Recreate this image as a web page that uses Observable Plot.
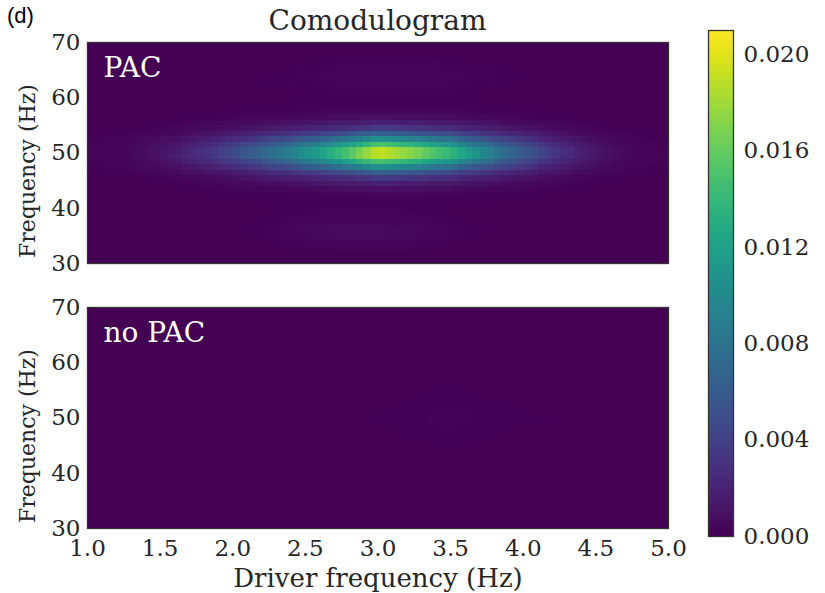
<!DOCTYPE html>
<html>
<head>
<meta charset="utf-8">
<script src="https://cdn.jsdelivr.net/npm/d3@7"></script>
<script src="https://cdn.jsdelivr.net/npm/@observablehq/plot@0.6"></script>
<style>
  html, body { margin: 0; padding: 0; background: #fff; }
  #root { position: relative; width: 825px; height: 593px; overflow: hidden; font-family: "DejaVu Serif", serif; color: #262626; }
  .abs { position: absolute; }
  #title { left: 0; width: 755px; top: 4px; text-align: center; font-size: 28px; white-space: nowrap; }
  #tag { left: 7px; top: 3px; font-family: "Liberation Sans", Arial, sans-serif; font-size: 22px; color: #000; }
</style>
</head>
<body>
<div id="root">
  <div id="p1" class="abs" style="left:0;top:0"></div>
  <div id="p2" class="abs" style="left:0;top:270px"></div>
  <div id="cb" class="abs" style="left:700px;top:0"></div>
  <div id="title" class="abs">Comodulogram</div>
  <div id="tag" class="abs">(d)</div>
</div>
<script>
// ---- data (values in units of 0.001) ----
const driverFreqs = [1.0, 1.25, 1.5, 1.75, 2.0, 2.25, 2.5, 2.75, 3.0, 3.25, 3.5, 3.75, 4.0, 4.25, 4.5, 4.75, 5.0];
const pacFreqRows = [30, 32, 34, 36, 38, 40, 41, 42, 43, 44, 45, 46, 47, 48, 49, 50, 51, 52, 53, 54, 55, 56, 57, 58, 59, 60, 62, 64, 66, 68, 70];
const pacMilli = [
  [0,0,0,0,0,0,0,0,0,0,0,0,0,0,0,0,0],                              // 30
  [0,0,0,0,0,0,0.1,0.1,0.1,0.1,0,0,0,0,0,0,0],                      // 32
  [0,0,0,0,0,0.1,0.3,0.4,0.4,0.3,0.1,0,0,0,0,0,0],                  // 34
  [0,0,0,0,0.1,0.2,0.5,0.7,0.7,0.5,0.3,0.1,0,0,0,0,0],              // 36
  [0,0,0,0,0,0.1,0.3,0.4,0.4,0.3,0.1,0,0,0,0,0,0],                  // 38
  [0,0,0,0,0,0,0.1,0.1,0.1,0.1,0,0,0,0,0,0,0],                      // 40
  [0,0,0,0,0,0.1,0.1,0.1,0.1,0.1,0.1,0.1,0,0,0,0,0],                // 41
  [0,0,0,0,0.1,0.1,0.1,0.2,0.2,0.2,0.2,0.1,0.1,0,0,0,0],            // 42
  [0,0,0,0.1,0.1,0.2,0.3,0.4,0.5,0.5,0.4,0.2,0.1,0.1,0,0,0],        // 43
  [0,0,0.1,0.2,0.4,0.5,0.7,1.0,1.3,1.1,0.9,0.6,0.4,0.2,0.1,0,0],    // 44
  [0,0,0.1,0.3,0.6,1.0,1.4,1.9,2.5,2.2,1.8,1.2,0.7,0.4,0.1,0,0],    // 45
  [0,0.1,0.3,0.6,1.1,1.8,2.6,3.5,4.8,4.2,3.4,2.3,1.4,0.7,0.3,0.1,0],// 46
  [0.1,0.2,0.5,1.1,2.0,3.2,4.6,6.2,8.4,7.4,6.0,4.0,2.5,1.3,0.5,0.2,0.1], // 47
  [0.1,0.3,0.7,1.7,3.1,4.9,7.1,9.6,13.0,11.4,9.3,6.2,3.9,1.9,0.8,0.3,0.1], // 48
  [0.2,0.3,0.9,2.3,4.1,6.6,9.5,12.8,17.2,15.2,12.4,8.3,5.2,2.6,1.0,0.3,0.2], // 49
  [0.2,0.4,1.1,2.7,5.0,8.0,11.6,15.5,21.0,18.5,15.1,10.1,6.3,3.2,1.3,0.4,0.2], // 50
  [0.2,0.3,0.9,2.3,4.2,6.7,9.7,13.0,17.6,15.5,12.7,8.5,5.3,2.7,1.1,0.3,0.2], // 51
  [0.1,0.3,0.7,1.7,3.1,4.9,7.1,9.6,13.0,11.4,9.3,6.2,3.9,1.9,0.8,0.3,0.1], // 52
  [0.1,0.2,0.5,1.1,2.0,3.2,4.6,6.2,8.4,7.4,6.0,4.0,2.5,1.3,0.5,0.2,0.1], // 53
  [0,0.1,0.3,0.6,1.1,1.8,2.6,3.5,4.8,4.2,3.4,2.3,1.4,0.7,0.3,0.1,0],// 54
  [0,0,0.1,0.3,0.6,1.0,1.4,1.9,2.5,2.2,1.8,1.2,0.7,0.4,0.1,0,0],    // 55
  [0,0,0.1,0.2,0.4,0.5,0.7,1.0,1.3,1.1,0.9,0.6,0.4,0.2,0.1,0,0],    // 56
  [0,0,0,0.1,0.1,0.2,0.3,0.4,0.5,0.5,0.4,0.2,0.1,0.1,0,0,0],        // 57
  [0,0,0,0,0.1,0.1,0.1,0.2,0.2,0.2,0.2,0.1,0.1,0,0,0,0],            // 58
  [0,0,0,0,0,0.1,0.1,0.1,0.1,0.1,0.1,0.1,0,0,0,0,0],                // 59
  [0,0,0,0,0,0,0.1,0.1,0.1,0.1,0.1,0,0,0,0,0,0],                    // 60
  [0,0,0,0,0,0.1,0.1,0.2,0.2,0.2,0.2,0.1,0,0,0,0,0],                // 62
  [0,0,0,0,0,0.1,0.2,0.4,0.4,0.4,0.3,0.2,0.1,0,0,0,0],              // 64
  [0,0,0,0,0,0,0.1,0.2,0.2,0.2,0.2,0.1,0,0,0,0,0],                  // 66
  [0,0,0,0,0,0,0,0.1,0.1,0.1,0,0,0,0,0,0,0],                        // 68
  [0,0,0,0,0,0,0,0,0,0,0,0,0,0,0,0,0]                               // 70
];
const noPacDriver = [1.0, 2.0, 3.0, 3.5, 4.0, 5.0];
const noPacFreqRows = [30, 40, 45, 50, 55, 60, 70];
const noPacMilli = [
  [0,0,0,0,0,0],
  [0,0,0,0,0,0],
  [0,0,0,0.1,0,0],
  [0,0,0.1,0.2,0.1,0],
  [0,0,0,0.1,0,0],
  [0,0,0,0,0,0],
  [0,0,0,0,0,0]
];
const yTicks = [30, 40, 50, 60, 70];
const xTicks = [1.0, 1.5, 2.0, 2.5, 3.0, 3.5, 4.0, 4.5, 5.0];
const colorbarTicks = [0.000, 0.004, 0.008, 0.012, 0.016, 0.020];
const colorMax = 0.021;

function toCells(rowsHz, cols, milli) {
  return rowsHz.flatMap((f, i) => cols.map((d, j) => ({driver: d, freq: f, pac: milli[i][j] / 1000})));
}
const pacData = toCells(pacFreqRows, driverFreqs, pacMilli);
const noPacData = toCells(noPacFreqRows, noPacDriver, noPacMilli);

const colorScale = {type: "linear", scheme: "viridis", domain: [0, colorMax]};
const baseStyle = {fontFamily: "DejaVu Serif", fontSize: "23px", color: "#262626", background: "transparent", overflow: "visible"};

function panel(data, label, opts) {
  return Plot.plot({
    width: 700,
    height: opts.height,
    marginLeft: 87,
    marginRight: 32,
    marginTop: opts.marginTop,
    marginBottom: opts.marginBottom,
    style: baseStyle,
    x: {domain: [1, 5]},
    y: {domain: [30, 70]},
    color: colorScale,
    marks: [
      Plot.raster(data, {x: "driver", y: "freq", fill: "pac", interpolate: "barycentric",
        width: 80, height: 40, x1: 1, x2: 5, y1: 30, y2: 70, imageRendering: "pixelated"}),
      Plot.frame({stroke: "#333", strokeWidth: 1.3}),
      Plot.text([label], {frameAnchor: "top-left", dx: 16, dy: 15, fill: "white", fontSize: 28, textAnchor: "start", lineAnchor: "top"}),
      Plot.axisY({ticks: yTicks, tickSize: 0, tickPadding: 7, label: null, fontSize: 23}),
      Plot.text(["Frequency (Hz)"], {frameAnchor: "left", rotate: -90, dx: -60, dy: 18, fontSize: 22, fill: "#262626", textAnchor: "middle", lineAnchor: "middle"}),
      opts.showX
        ? Plot.axisX({ticks: xTicks, tickSize: 0, tickPadding: 11, tickFormat: d3.format(".1f"), label: null, fontSize: 23})
        : Plot.axisX({ticks: [], label: null}),
      opts.showX
        ? Plot.text(["Driver frequency (Hz)"], {frameAnchor: "bottom", dy: 50, fontSize: 26, fill: "#262626", textAnchor: "middle", lineAnchor: "middle"})
        : null
    ]
  });
}

document.getElementById("p1").append(panel(pacData, "PAC", {height: 270, marginTop: 42, marginBottom: 7, showX: false}));
document.getElementById("p2").append(panel(noPacData, "no PAC", {height: 323, marginTop: 37, marginBottom: 65, showX: true}));

const cb = Plot.plot({
  width: 125,
  height: 593,
  marginLeft: 8,
  marginRight: 92,
  marginTop: 30,
  marginBottom: 57,
  style: baseStyle,
  x: {domain: [0, 1], axis: null},
  y: {domain: [0, colorMax]},
  color: colorScale,
  marks: [
    Plot.raster({fill: (x, y) => y, x1: 0, x2: 1, y1: 0, y2: colorMax, width: 1, height: 300}),
    Plot.frame({stroke: "#333", strokeWidth: 1.3}),
    Plot.axisY({anchor: "right", ticks: colorbarTicks, tickSize: 0, tickPadding: 10, tickFormat: d3.format(".3f"), label: null, fontSize: 23})
  ]
});
document.getElementById("cb").append(cb);
</script>
</body>
</html>
